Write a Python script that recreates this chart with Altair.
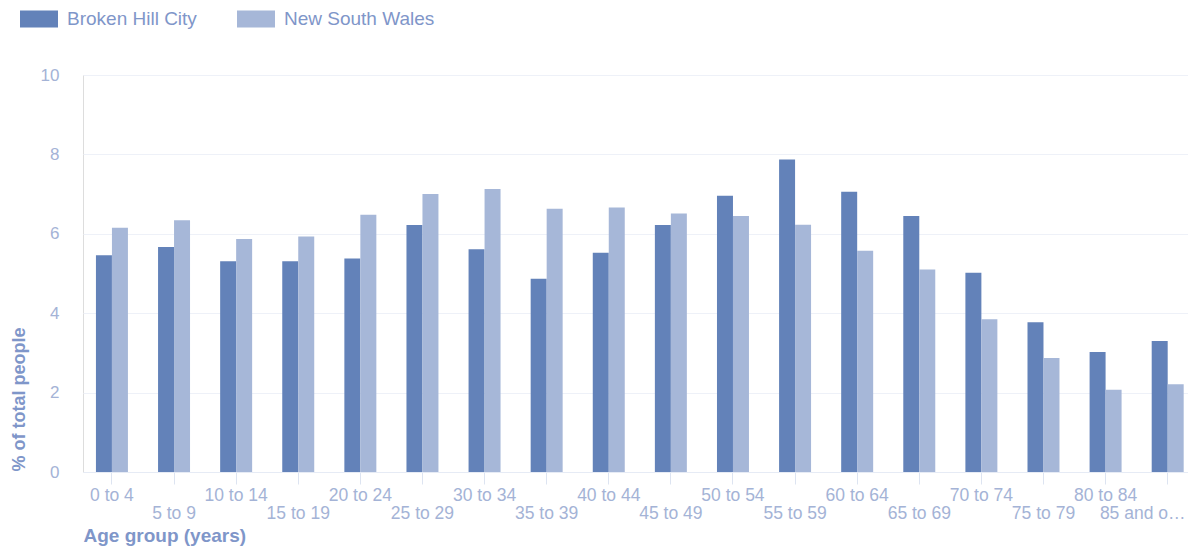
import altair as alt
import pandas as pd

age_groups = ["0 to 4", "5 to 9", "10 to 14", "15 to 19", "20 to 24", "25 to 29",
              "30 to 34", "35 to 39", "40 to 44", "45 to 49", "50 to 54", "55 to 59",
              "60 to 64", "65 to 69", "70 to 74", "75 to 79", "80 to 84", "85 and over"]
broken_hill = [5.46, 5.67, 5.31, 5.31, 5.38, 6.22, 5.61, 4.87, 5.52, 6.22, 6.96, 7.87,
               7.06, 6.45, 5.02, 3.77, 3.02, 3.30]
nsw = [6.15, 6.34, 5.87, 5.93, 6.48, 7.00, 7.13, 6.63, 6.66, 6.51, 6.45, 6.23,
       5.57, 5.10, 3.85, 2.87, 2.07, 2.21]
series = ["Broken Hill City", "New South Wales"]
colors = ["#6382b9", "#a6b7d8"]
y_ticks = [0, 2, 4, 6, 8, 10]

rows = []
for i, a in enumerate(age_groups):
    rows.append({"age": a, "series": series[0], "value": broken_hill[i]})
    rows.append({"age": a, "series": series[1], "value": nsw[i]})
df = pd.DataFrame(rows)

FONT = "Liberation Sans, Arial, Helvetica, sans-serif"
n = len(age_groups) - 1
last = age_groups[-1]

chart = alt.Chart(df).mark_bar().encode(
    x=alt.X("age:N", sort=age_groups,
            scale=alt.Scale(paddingInner=0.485, paddingOuter=0.139, align=0.75),
            axis=alt.Axis(
                title="Age group (years)", labelAngle=0, labelFontSize=17.5,
                labelColor="#a4b3d6", labelFont=FONT, tickSize=12, tickColor="#dde4f1",
                domainColor="#e6ebf5", labelPadding=16, labelBaseline="alphabetic",
                labelLineHeight=18, labelOverlap=False, labelLimit=88,
                labelOffset={"condition": {"test": f"datum.value == '{last}'", "value": -25},
                             "value": 0},
                labelExpr=f"round(datum.index * {n}) % 2 == 1 ? ['', datum.label] : datum.label",
                titleFontSize=19, titleFontWeight="bold", titleColor="#7f96c9", titleFont=FONT,
                titleAnchor="start", titleAlign="left", titleX=0, titleY=69,
                titleBaseline="alphabetic", grid=False)),
    xOffset=alt.XOffset("series:N", sort=series,
                        scale=alt.Scale(paddingInner=0, paddingOuter=0)),
    y=alt.Y("value:Q", scale=alt.Scale(domain=[0, 10]),
            axis=alt.Axis(
                values=y_ticks, title="% of total people", labelFontSize=17,
                labelColor="#a4b3d6", labelFont=FONT, ticks=False, domain=False,
                labelPadding=24, gridColor="#eef1f8", titleFontSize=18,
                titleFontWeight="bold", titleColor="#7f96c9", titleFont=FONT,
                titleAngle=270, titleAlign="left", titleBaseline="middle",
                titleX=-64, titleY=396)),
    color=alt.Color("series:N", sort=series,
                    scale=alt.Scale(domain=series, range=colors),
                    legend=alt.Legend(
                        title=None, orient="none", legendX=-63, legendY=-75,
                        direction="horizontal",
                        symbolType="M-1,-0.45L1,-0.45L1,0.45L-1,0.45Z",
                        symbolSize=1444, symbolStrokeWidth=0, symbolOpacity=1,
                        labelFontSize=19, labelColor="#7f96c9", labelFont=FONT,
                        labelOffset=9, columnPadding=40)),
).properties(
    width=1105, height=397,
    padding={"left": 75, "top": 67, "right": 0, "bottom": 75},
    autosize="none",
).configure_view(strokeWidth=0).configure(background="white")

chart.save("out.html", embed_options={"renderer": "svg", "actions": False})
